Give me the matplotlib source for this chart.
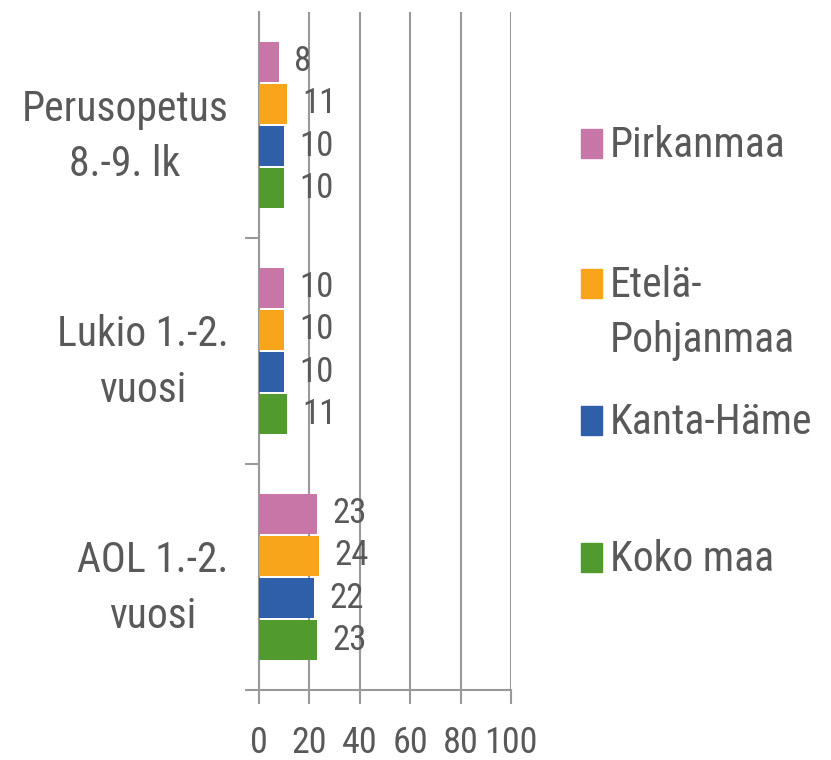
import matplotlib
matplotlib.use('Agg')
import matplotlib.pyplot as plt
from matplotlib import font_manager
from matplotlib.patches import Rectangle
import numpy as np

categories = ['Perusopetus\n8.-9. lk', 'Lukio 1.-2.\nvuosi', 'AOL 1.-2.\nvuosi']
series = ['Pirkanmaa', 'Etelä-\nPohjanmaa', 'Kanta-Häme', 'Koko maa']
colors = ['#C876A8', '#F8A51C', '#2E5FA8', '#509A2E']
pirkanmaa = [8, 10, 23]
etela_pohjanmaa = [11, 10, 24]
kanta_hame = [10, 10, 22]
koko_maa = [10, 11, 23]
values = [pirkanmaa, etela_pohjanmaa, kanta_hame, koko_maa]
xticks = [0, 20, 40, 60, 80, 100]

# the original uses a narrow face; take one if present, else shrink the regular one
names = {f.name for f in font_manager.fontManager.ttflist}
narrow = ['Liberation Sans Narrow', 'Arial Narrow', 'Roboto Condensed',
          'Archivo Narrow', 'PT Sans Narrow', 'Open Sans Condensed']
found = [n for n in narrow if n in names]
if found:
    fam, k = found[0], 1.0
else:
    fam, k = 'Liberation Sans', 0.86
plt.rcParams['font.family'] = [fam, 'DejaVu Sans']
txt = '#595959'
grid = '#999999'

W, H = 831, 760
fig = plt.figure(figsize=(W / 100, H / 100), dpi=100)
ax = fig.add_axes([259 / W, 70 / H, 252 / W, 678 / H])

y = np.arange(len(categories))
offsets = [-0.279, -0.093, 0.093, 0.279]
for vals, off, c in zip(values, offsets, colors):
    bars = ax.barh(y + off, vals, height=0.18, color=c, zorder=3)
    for b, v in zip(bars, vals):
        ax.annotate(str(v), (v, b.get_y() + b.get_height() / 2),
                    xytext=(11, 0), textcoords='offset points',
                    ha='left', va='center', fontsize=25 * k, color=txt)

ax.set_xlim(0, 100)
ax.set_ylim(2.5, -0.5)
ax.set_xticks(xticks)
ax.tick_params(axis='x', length=10, width=1.5, color=grid, pad=15,
               labelsize=26 * k, labelcolor=txt)
ax.set_yticks(y)
ax.set_yticklabels(categories, ha='right', multialignment='center')
for lab in ax.get_yticklabels():
    lab.set_linespacing(1.45)
ax.set_yticks([0.5, 1.5, 2.5], minor=True)
ax.tick_params(axis='y', which='major', length=0, pad=22,
               labelsize=30 * k, labelcolor=txt)
ax.tick_params(axis='y', which='minor', length=10, width=1.5, color=grid)
ax.grid(axis='x', color=grid, linewidth=1.5, zorder=0)
for s in ['top', 'right']:
    ax.spines[s].set_visible(False)
for s in ['left', 'bottom']:
    ax.spines[s].set_color(grid)
    ax.spines[s].set_linewidth(1.5)

# legend drawn by hand to keep the wide spacing of the original
tops = [123, 263, 400, 537]
for name, c, t in zip(series, colors, tops):
    fig.add_artist(Rectangle((581 / W, 1 - (t + 35) / H), 21 / W, 29 / H,
                             color=c, transform=fig.transFigure))
    fig.text(610 / W, 1 - (t + 2) / H, name, ha='left', va='top',
             fontsize=30 * k, color=txt, linespacing=1.45)

fig.savefig('out.png', dpi=100)
